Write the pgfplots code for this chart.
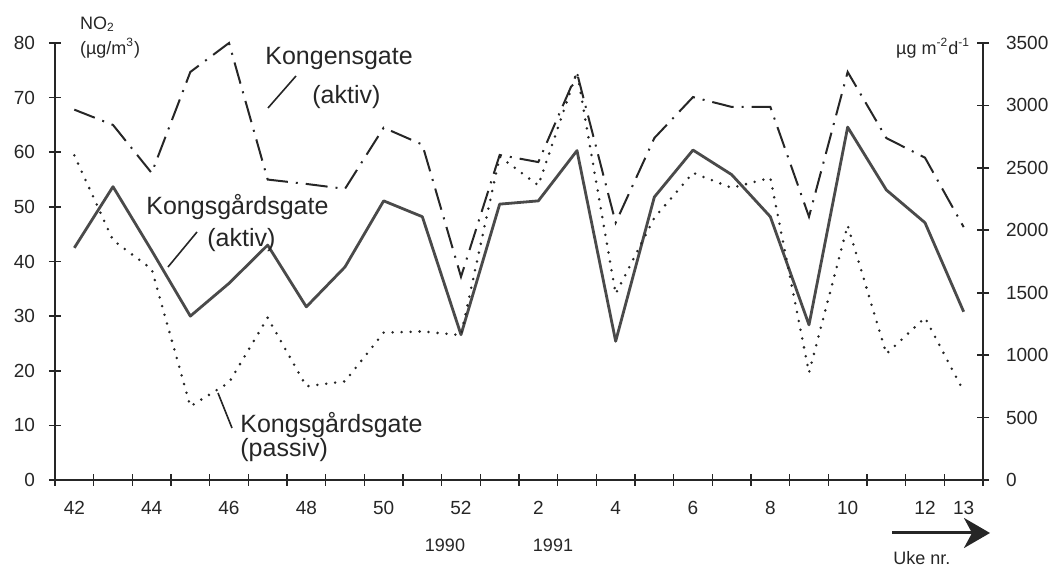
\documentclass[border=0pt]{standalone}
\usepackage{fontspec}
\setmainfont{Liberation Sans}
\usepackage{pgfplots}
\usepackage{pgfplotstable}
\pgfplotsset{compat=1.18}
\usetikzlibrary{arrows.meta}

\definecolor{ink}{HTML}{262626}
\definecolor{solidgrey}{HTML}{4A4A4A}

% NO2 concentrations (ug/m3), weeks 42/1990 - 13/1991
\pgfplotstableread{
idx kongens kgaktiv
0  67.8 42.5
1  65.0 53.7
2  56.2 42.0
3  74.7 30.0
4  80.0 36.0
5  55.0 43.0
6  54.2 31.7
7  53.3 39.0
8  64.5 51.1
9  61.4 48.2
10 37.2 26.6
11 59.5 50.5
12 58.2 51.1
13 74.5 60.3
14 47.1 25.4
15 62.6 51.8
16 70.1 60.4
17 68.3 55.9
18 68.3 48.2
19 48.2 28.4
20 74.7 64.6
21 62.6 53.1
22 59.0 47.1
23 46.3 30.8
}\aktivtab

% passive sampler (ug m-2 d-1)
\pgfplotstableread{
idx passiv
0  2600
1  1920
2  1690
3  590
4  780
5  1300
6  750
7  790
8  1180
9  1190
10 1160
11 2590
12 2360
13 3270
14 1490
15 2100
16 2460
17 2340
18 2420
19 860
20 2040
21 1010
22 1300
23 710
}\passivtab

\pgfplotsset{chart/.style={
  scale only axis, width=464pt, height=218.5pt,
  xmin=-0.5, xmax=23.5,
  tick align=center, major tick length=6pt, minor tick length=6pt,
  every tick/.style={ink, line width=0.8pt},
  axis line style={ink, line width=0.9pt},
  tick label style={font=\fontsize{9.5}{10}\selectfont, text=ink},
  /pgf/number format/assume math mode=true,
  /pgf/number format/1000 sep={},
  scaled ticks=false,
  clip=false,
}}

\begin{document}
\begin{tikzpicture}
\begin{axis}[chart,
  axis x line*=bottom, axis y line*=left,
  ymin=0, ymax=80, ytick={0,10,...,80},
  yticklabel style={xshift=-3.5pt},
  xtick={0,2,4,6,8,10,12,14,16,18,20,22,23},
  xticklabels={42,44,46,48,50,52,2,4,6,8,10,12,13},
  xticklabel style={yshift=-4pt},
  major x tick style={draw=none},
  minor xtick={-0.5,0.5,...,23.5},
]
\addplot[ink, line width=1pt, dash pattern=on 11pt off 4pt on 1pt off 4pt]
  table[x=idx, y=kongens] {\aktivtab};
\addplot[solidgrey, line width=1.4pt, line join=round]
  table[x=idx, y=kgaktiv] {\aktivtab};
\end{axis}

\begin{axis}[chart,
  axis x line=none, axis y line*=right,
  ymin=0, ymax=3500, ytick={0,500,...,3500},
  yticklabel style={xshift=5pt},
]
\addplot[ink, line width=1.4pt, line cap=round, dash pattern=on 0pt off 4.5pt]
  table[x=idx, y=passiv] {\passivtab};
\end{axis}

% annotations, in pixel units of the 1054x566 frame
\begin{scope}[shift={(-27.5pt,240pt)}, x=0.5pt, y=-0.5pt, text=ink]
  \node[anchor=west, font=\fontsize{9}{10}\selectfont] at (73,24) {NO\textsubscript{2}};
  \node[anchor=west, font=\fontsize{9}{10}\selectfont] at (73,48) {(µg/m\textsuperscript{3})};
  \node[anchor=east, font=\fontsize{9}{10}\selectfont] at (977,48) {µg m\textsuperscript{-2}d\textsuperscript{-1}};

  \node[anchor=base west, font=\fontsize{12.5}{14}\selectfont, inner sep=0pt] at (265,65) {Kongensgate};
  \node[anchor=base west, font=\fontsize{12.5}{14}\selectfont, inner sep=0pt] at (312,104) {(aktiv)};
  \draw[ink, line width=0.8pt] (268,108) -- (296,76);

  \node[anchor=base west, font=\fontsize{12.5}{14}\selectfont, inner sep=0pt] at (146,215) {Kongsgårdsgate};
  \node[anchor=base west, font=\fontsize{12.5}{14}\selectfont, inner sep=0pt] at (207,247) {(aktiv)};
  \draw[ink, line width=0.8pt] (168,267) -- (197,232);

  \node[anchor=base west, font=\fontsize{12.5}{14}\selectfont, inner sep=0pt] at (240,433) {Kongsgårdsgate};
  \node[anchor=base west, font=\fontsize{12.5}{14}\selectfont, inner sep=0pt] at (240,457) {(passiv)};
  \draw[ink, line width=0.8pt] (218,393) -- (232,428);

  \node[font=\fontsize{9}{10}\selectfont] at (445,545) {1990};
  \node[font=\fontsize{9}{10}\selectfont] at (553,545) {1991};

  \draw[ink, line width=1.5pt, -{Stealth[length=13pt, width=15pt, inset=4pt]}] (892,533) -- (990,533);
  \node[anchor=west, font=\fontsize{9}{10}\selectfont, inner sep=0pt] at (893,558) {Uke nr.};

  \pgfresetboundingbox
  \path[use as bounding box] (0,0) rectangle (1054,566);
\end{scope}
\end{tikzpicture}
\end{document}
